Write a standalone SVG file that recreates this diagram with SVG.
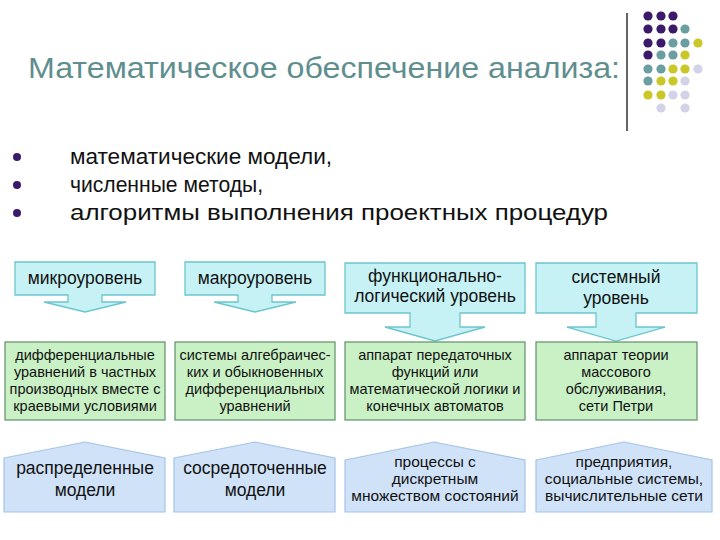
<svg xmlns="http://www.w3.org/2000/svg" width="720" height="540" viewBox="0 0 720 540">
<style>
text{font-family:"Liberation Sans",Arial,sans-serif;fill:#111;text-anchor:middle}
.title{fill:#5f8e8f;font-size:30px;text-anchor:start}
.bul{font-size:22px;text-anchor:start}
.top{fill:#c6f2f6;stroke:#6cc5cd;stroke-width:1.3}
.lvl{font-size:17.5px}
.grn{fill:#c9f1c5;stroke:#5f8f68;stroke-width:1.2}
.gt{font-size:14.5px}
.hs{fill:#cfe2f8;stroke:#a6c3e6;stroke-width:1.2}
.ht{font-size:15.5px}
.ht2{font-size:17.5px}
.p{fill:#3b1a6b}.t{fill:#6a9ea0}.y{fill:#c9c828}.l{fill:#d3d3e8}
</style>
<rect width="720" height="540" fill="#fff"/>
<g id="header">
<text class="title" x="28" y="78" textLength="592" lengthAdjust="spacingAndGlyphs">Математическое обеспечение анализа:</text>
<line x1="627" y1="13" x2="627" y2="131" stroke="#111" stroke-width="1.3"/>
<g id="dots">
<circle class="p" cx="648" cy="16" r="4.6"/><circle class="p" cx="661" cy="16" r="4.6"/><circle class="p" cx="673" cy="16" r="4.6"/>
<circle class="p" cx="648" cy="29" r="4.6"/><circle class="p" cx="661" cy="29" r="4.6"/><circle class="p" cx="673" cy="29" r="4.6"/><circle class="t" cx="685" cy="29" r="4.6"/>
<circle class="p" cx="648" cy="43" r="4.6"/><circle class="p" cx="661" cy="43" r="4.6"/><circle class="t" cx="673" cy="43" r="4.6"/><circle class="t" cx="685" cy="43" r="4.6"/><circle class="y" cx="698" cy="43" r="4.6"/>
<circle class="p" cx="648" cy="55" r="4.6"/><circle class="t" cx="661" cy="55" r="4.6"/><circle class="t" cx="673" cy="55" r="4.6"/><circle class="y" cx="685" cy="55" r="4.6"/>
<circle class="t" cx="648" cy="69" r="4.6"/><circle class="t" cx="661" cy="69" r="4.6"/><circle class="y" cx="673" cy="69" r="4.6"/><circle class="y" cx="685" cy="69" r="4.6"/><circle class="l" cx="698" cy="69" r="4.6"/>
<circle class="t" cx="648" cy="81" r="4.6"/><circle class="y" cx="661" cy="81" r="4.6"/><circle class="y" cx="673" cy="81" r="4.6"/><circle class="l" cx="685" cy="81" r="4.6"/>
<circle class="y" cx="648" cy="95" r="4.6"/><circle class="y" cx="661" cy="95" r="4.6"/><circle class="l" cx="673" cy="95" r="4.6"/><circle class="l" cx="685" cy="95" r="4.6"/>
<circle class="l" cx="661" cy="108" r="4.6"/><circle class="l" cx="685" cy="108" r="4.6"/>
</g>
</g>
<g id="bullets">
<circle class="p" cx="17" cy="157" r="4"/><circle class="p" cx="17" cy="185" r="4"/><circle class="p" cx="17" cy="213" r="4"/>
<text class="bul" x="70" y="164" textLength="262" lengthAdjust="spacingAndGlyphs">математические модели,</text>
<text class="bul" x="70" y="192" textLength="193" lengthAdjust="spacingAndGlyphs">численные методы,</text>
<text class="bul" x="70" y="220" textLength="538" lengthAdjust="spacingAndGlyphs">алгоритмы выполнения проектных процедур</text>
</g>
<g id="level-micro">
<path class="top" d="M15,262 H155 V295 H102 V302 H126 L85,312 L44,302 H68 V295 H15 Z"/>
<text class="lvl" x="85" y="284">микроуровень</text>
</g>
<g id="level-macro">
<path class="top" d="M185,262 H325 V295 H272 V302 H296 L255,312 L214,302 H238 V295 H185 Z"/>
<text class="lvl" x="255" y="284">макроуровень</text>
</g>
<g id="level-func">
<path class="top" d="M345,263 H525 V313 H460 V327 H485 L435,341 L385,327 H410 V313 H345 Z"/>
<text class="lvl" x="435" y="282">функционально-</text>
<text class="lvl" x="435" y="302">логический уровень</text>
</g>
<g id="level-sys">
<path class="top" d="M536,263 H697 V313 H636 V327 H665 L616,341 L567,327 H596 V313 H536 Z"/>
<text class="lvl" x="616" y="283">системный</text>
<text class="lvl" x="616" y="304">уровень</text>
</g>
<g id="math-micro">
<rect class="grn" x="5" y="342" width="160" height="78"/>
<text class="gt" x="85" y="360">дифференциальные</text>
<text class="gt" x="85" y="377">уравнений в частных</text>
<text class="gt" x="85" y="394">производных вместе с</text>
<text class="gt" x="85" y="411">краевыми условиями</text>
</g>
<g id="math-macro">
<rect class="grn" x="175" y="342" width="160" height="78"/>
<text class="gt" x="255" y="360">системы алгебраичес-</text>
<text class="gt" x="255" y="377">ких и обыкновенных</text>
<text class="gt" x="255" y="394">дифференциальных</text>
<text class="gt" x="255" y="411">уравнений</text>
</g>
<g id="math-func">
<rect class="grn" x="345" y="342" width="180" height="78"/>
<text class="gt" x="435" y="360">аппарат передаточных</text>
<text class="gt" x="435" y="377">функций или</text>
<text class="gt" x="435" y="394">математической логики и</text>
<text class="gt" x="435" y="411">конечных автоматов</text>
</g>
<g id="math-sys">
<rect class="grn" x="536" y="342" width="161" height="78"/>
<text class="gt" x="616" y="360">аппарат теории</text>
<text class="gt" x="616" y="377">массового</text>
<text class="gt" x="616" y="394">обслуживания,</text>
<text class="gt" x="616" y="411">сети Петри</text>
</g>
<g id="model-micro">
<path class="hs" d="M4,458 L85,442 L165,458 V512 H4 Z"/>
<text class="ht2" x="85" y="474">распределенные</text>
<text class="ht2" x="85" y="496">модели</text>
</g>
<g id="model-macro">
<path class="hs" d="M174,458 L255,442 L335,458 V512 H174 Z"/>
<text class="ht2" x="255" y="474">сосредоточенные</text>
<text class="ht2" x="255" y="496">модели</text>
</g>
<g id="model-func">
<path class="hs" d="M345,460 L434,442 L525,460 V512 H345 Z"/>
<text class="ht" x="435" y="467">процессы с</text>
<text class="ht" x="435" y="484">дискретным</text>
<text class="ht" x="435" y="501">множеством состояний</text>
</g>
<g id="model-sys">
<path class="hs" d="M536,460 L624,442 L712,460 V512 H536 Z"/>
<text class="ht" x="624" y="467">предприятия,</text>
<text class="ht" x="624" y="484">социальные системы,</text>
<text class="ht" x="624" y="501">вычислительные сети</text>
</g>
<g id="connectors"></g>
</svg>
